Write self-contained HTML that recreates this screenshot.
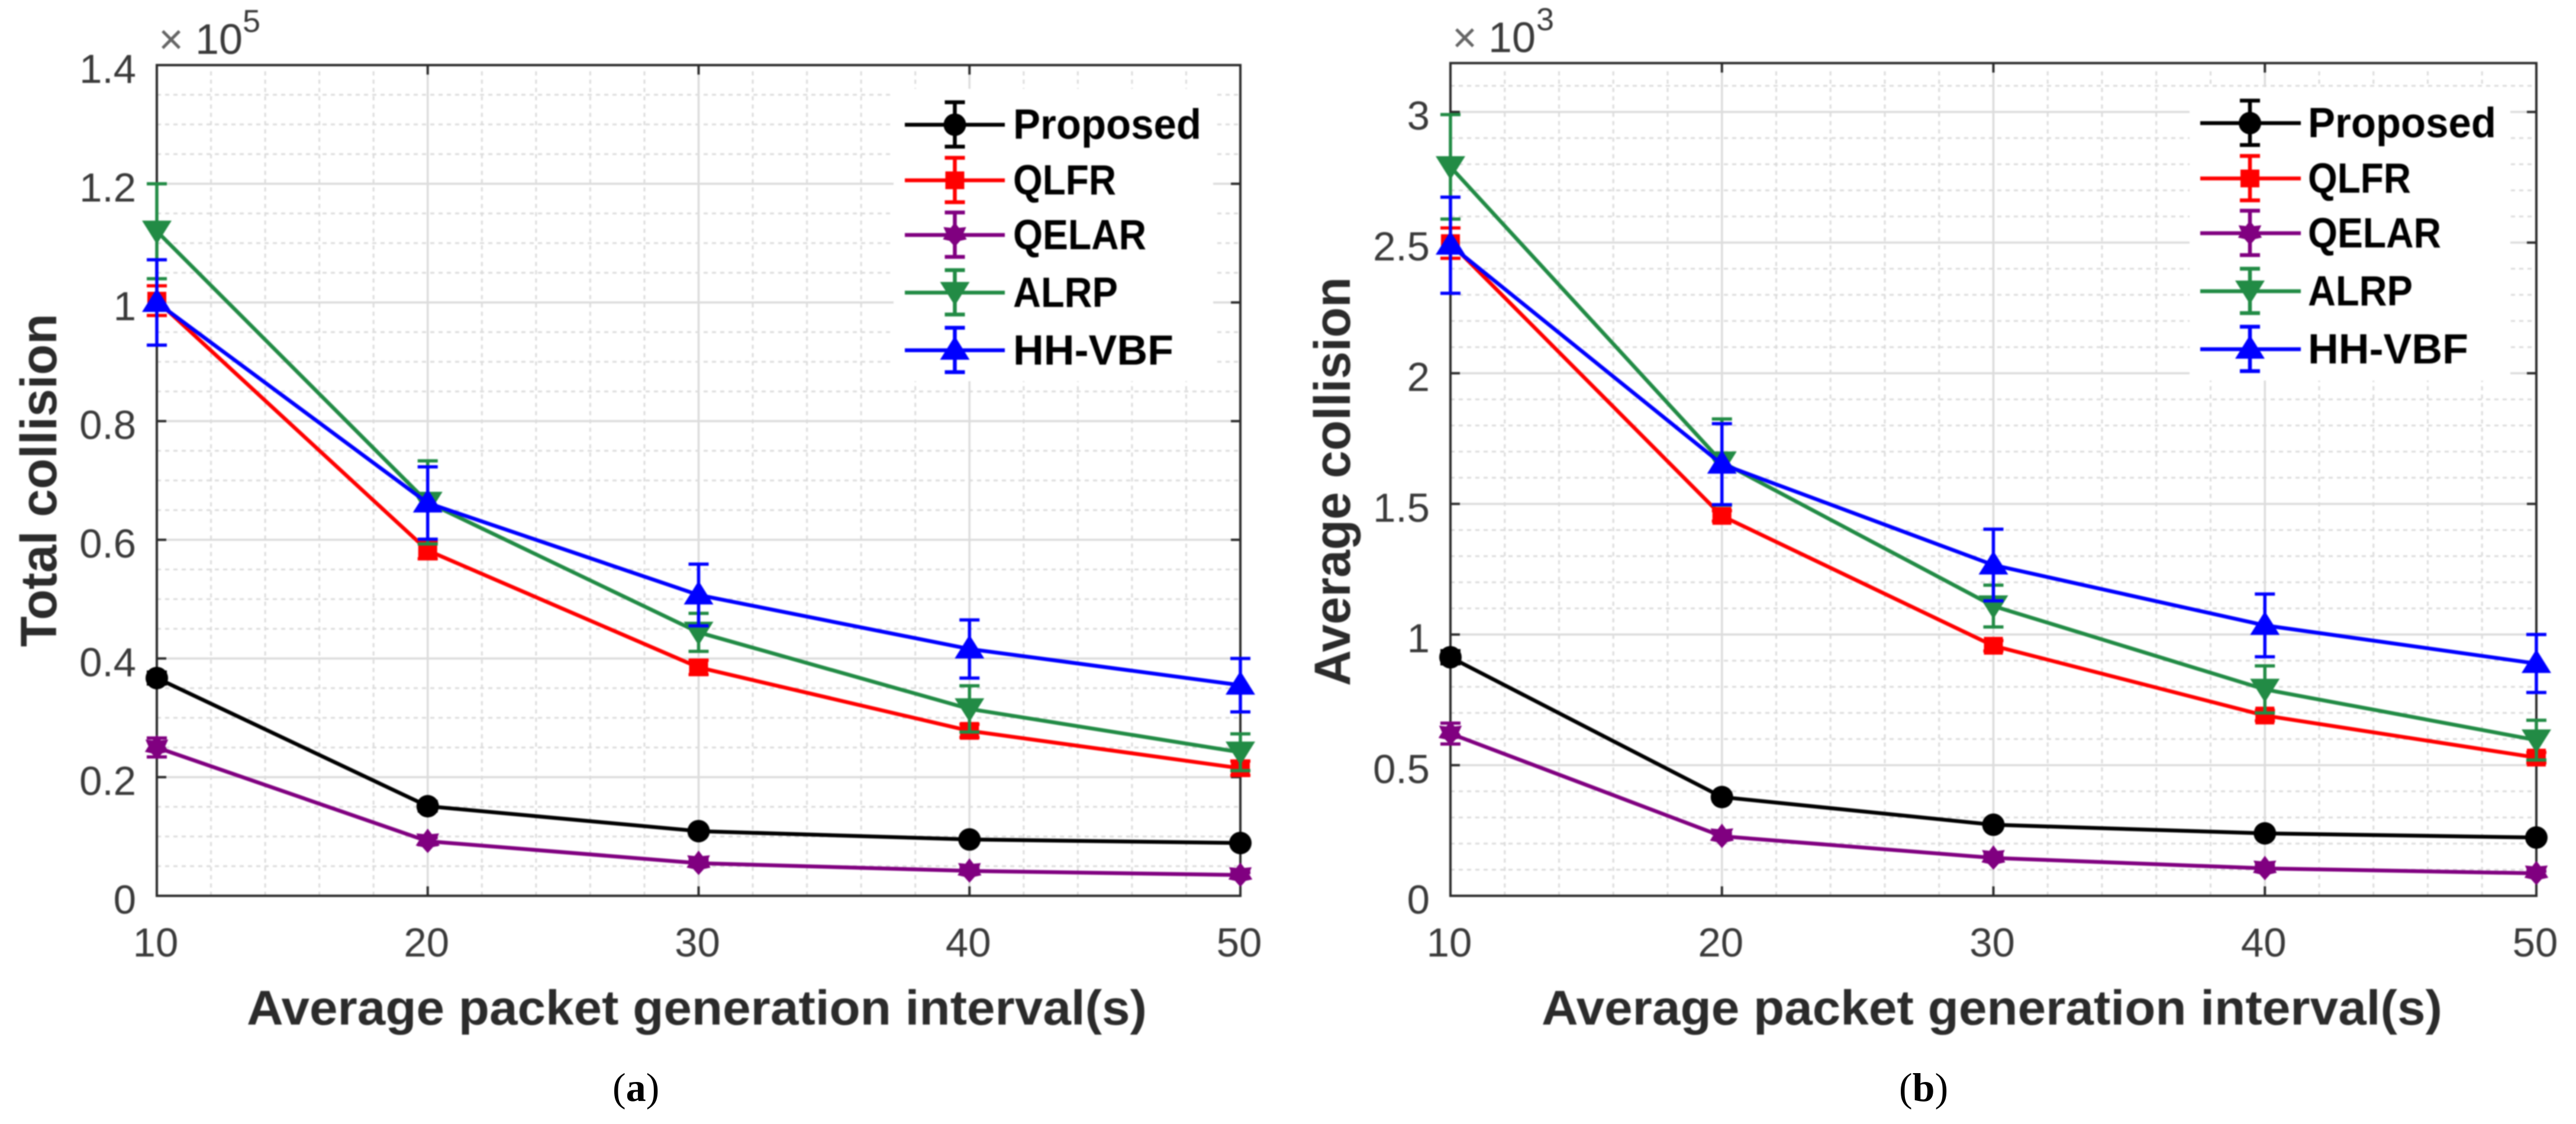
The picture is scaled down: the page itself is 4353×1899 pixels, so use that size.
<!DOCTYPE html>
<html lang="en">
<head>
<meta charset="utf-8">
<title>Total and average collision charts</title>
<style>
html,body{margin:0;padding:0;background:#fff;width:4353px;height:1899px;overflow:hidden}
svg{display:block}
text{font-family:"Liberation Sans",sans-serif}
#chartA,#chartB{filter:blur(1px)}
</style>
</head>
<body>
<svg id="fig" xmlns="http://www.w3.org/2000/svg" width="4353" height="1899" viewBox="0 0 4353 1899">
<rect x="0" y="0" width="4353" height="1899" fill="#fff"/>
<g id="chartA"></g>
<g id="chartB"></g>
<text x="1035" y="1860" font-size="68" fill="#000" style="font-family:'Liberation Serif',serif">(<tspan font-weight="bold">a</tspan>)</text>
<text x="3209" y="1860" font-size="68" fill="#000" style="font-family:'Liberation Serif',serif">(<tspan font-weight="bold">b</tspan>)</text>
</svg>
<script>
// ---- shared data ----
const categories = [10, 20, 30, 40, 50];
const seriesNames = ['Proposed', 'QLFR', 'QELAR', 'ALRP', 'HH-VBF'];
const xTickLabels = ['10', '20', '30', '40', '50'];

// ---- chart (a): total collision, x 10^5 ----
const totalProposed = [0.367, 0.151, 0.109, 0.095, 0.089];
const totalQLFR     = [1.003, 0.582, 0.385, 0.278, 0.215];
const totalQELAR    = [0.250, 0.092, 0.055, 0.042, 0.035];
const totalALRP     = [1.120, 0.663, 0.444, 0.315, 0.242];
const totalHHVBF    = [1.000, 0.662, 0.507, 0.416, 0.355];
const totalProposedErr = [0.010, 0.008, 0.006, 0.005, 0.005];
const totalQLFRErr     = [0.025, 0.014, 0.012, 0.011, 0.012];
const totalQELARErr    = [0.016, 0.006, 0.005, 0.004, 0.004];
const totalALRPErr     = [0.080, 0.070, 0.032, 0.039, 0.031];
const totalHHVBFErr    = [0.072, 0.061, 0.052, 0.049, 0.045];
const totalYTicks = [0, 0.2, 0.4, 0.6, 0.8, 1, 1.2, 1.4];
const totalYTickLabels = ['0', '0.2', '0.4', '0.6', '0.8', '1', '1.2', '1.4'];
const totalYMax = 1.4;
const totalYMinorStep = 0.05;

// ---- chart (b): average collision, x 10^3 ----
const avgProposed = [0.913, 0.378, 0.272, 0.239, 0.223];
const avgQLFR     = [2.498, 1.454, 0.957, 0.690, 0.529];
const avgQELAR    = [0.621, 0.228, 0.145, 0.105, 0.086];
const avgALRP     = [2.790, 1.660, 1.109, 0.790, 0.596];
const avgHHVBF    = [2.490, 1.652, 1.266, 1.035, 0.889];
const avgProposedErr = [0.025, 0.015, 0.012, 0.010, 0.010];
const avgQLFRErr     = [0.058, 0.020, 0.020, 0.020, 0.020];
const avgQELARErr    = [0.040, 0.010, 0.010, 0.010, 0.008];
const avgALRPErr     = [0.200, 0.165, 0.080, 0.090, 0.076];
const avgHHVBFErr    = [0.184, 0.155, 0.137, 0.120, 0.111];
const avgYTicks = [0, 0.5, 1, 1.5, 2, 2.5, 3];
const avgYTickLabels = ['0', '0.5', '1', '1.5', '2', '2.5', '3'];
const avgYMax = 3.187;
const avgYMinorStep = 0.1;

const seriesColors = ['#000000', '#ff0000', '#800080', '#228b45', '#0000ff'];
const legendTextWidths = [318, 174, 225, 177, 271];
const NS = 'http://www.w3.org/2000/svg';
const INK = '#2b2b2b';
const GRID = '#dcdcdc';

function mk(parent, tag, attrs, txt) {
  const e = document.createElementNS(NS, tag);
  for (const k in attrs) e.setAttribute(k, attrs[k]);
  if (txt !== undefined) e.textContent = txt;
  parent.appendChild(e);
  return e;
}

function drawMarker(g, idx, cx, cy) {
  const col = seriesColors[idx];
  let m;
  if (idx === 0) {
    m = mk(g, 'circle', {cx: cx, cy: cy, r: 19, fill: col});
  } else if (idx === 1) {
    m = mk(g, 'rect', {x: cx - 16, y: cy - 15, width: 32, height: 30, fill: col});
  } else if (idx === 2) {
    m = mk(g, 'polygon', {fill: col, stroke: col, 'stroke-width': 4, points:
      [[0,-18],[6,-10],[16,-11],[12,-2],[17,6],[8,8],[0,17],[-8,8],[-17,6],[-12,-2],[-16,-11],[-6,-10]]
      .map(function (p) { return (cx + p[0]) + ',' + (cy + p[1]); }).join(' ')});
  } else if (idx === 3) {
    m = mk(g, 'polygon', {fill: col, points: (cx - 25) + ',' + (cy - 18) + ' ' + (cx + 25) + ',' + (cy - 18) + ' ' + cx + ',' + (cy + 22)});
  } else {
    m = mk(g, 'polygon', {fill: col, points: (cx - 25) + ',' + (cy + 16) + ' ' + (cx + 25) + ',' + (cy + 16) + ' ' + cx + ',' + (cy - 24)});
  }
  
  
}

function drawChart(root, cfg) {
  const sx = function (v) { return cfg.left + (v - 10) / 40 * (cfg.right - cfg.left); };
  const sy = function (v) { return cfg.bottom - v / cfg.yMax * (cfg.bottom - cfg.top); };

  // minor grid
  const minorGrid = mk(root, 'g', {stroke: GRID, 'stroke-width': 3, 'stroke-dasharray': '7 7', fill: 'none'});
  
  
  for (let v = 12; v < 50; v += 2) {
    if (v % 10 === 0) continue;
    const l = mk(minorGrid, 'line', {x1: sx(v), x2: sx(v), y1: cfg.bottom, y2: cfg.top + 10});
    
    
  }
  const nMinor = Math.floor(cfg.yMax / cfg.yMinorStep + 0.001);
  for (let i = 1; i <= nMinor; i++) {
    const v = i * cfg.yMinorStep;
    if (cfg.yTicks.some(function (t) { return Math.abs(t - v) < 1e-6; })) continue;
    const l = mk(minorGrid, 'line', {x1: cfg.left, x2: cfg.right, y1: sy(v), y2: sy(v)});
    
    
  }

  // major grid
  const majorGrid = mk(root, 'g', {stroke: GRID, 'stroke-width': 3.5, fill: 'none'});
  
  
  categories.slice(1, -1).forEach(function (c) {
    const l = mk(majorGrid, 'line', {x1: sx(c), x2: sx(c), y1: cfg.top, y2: cfg.bottom});
    
    
  });
  cfg.yTicks.forEach(function (t) {
    if (t === 0 || t >= cfg.yMax) return;
    const l = mk(majorGrid, 'line', {x1: cfg.left, x2: cfg.right, y1: sy(t), y2: sy(t)});
    
    
  });

  // legend background hides the grid beneath it
  const legendBg = mk(root, 'rect', {x: cfg.legBox[0], y: cfg.legBox[1], width: cfg.legBox[2], height: cfg.legBox[3], fill: '#fff'});
  
  

  // axes box
  const box = mk(root, 'rect', {x: cfg.left, y: cfg.top, width: cfg.right - cfg.left, height: cfg.bottom - cfg.top, fill: 'none', stroke: INK, 'stroke-width': 4});
  
  

  // ticks
  const ticks = mk(root, 'g', {stroke: INK, 'stroke-width': 4});
  
  
  categories.slice(1, -1).forEach(function (c) {
    const a = mk(ticks, 'line', {x1: sx(c), x2: sx(c), y1: cfg.bottom, y2: cfg.bottom - 16});
    
    
    const b = mk(ticks, 'line', {x1: sx(c), x2: sx(c), y1: cfg.top, y2: cfg.top + 16});
    
    
  });
  cfg.yTicks.forEach(function (t) {
    if (t === 0 || t >= cfg.yMax) return;
    const a = mk(ticks, 'line', {x1: cfg.left, x2: cfg.left + 16, y1: sy(t), y2: sy(t)});
    
    
    const b = mk(ticks, 'line', {x1: cfg.right, x2: cfg.right - 16, y1: sy(t), y2: sy(t)});
    
    
  });

  // tick labels
  xTickLabels.forEach(function (s, i) {
    const t = mk(root, 'text', {x: sx(categories[i]) - 2, y: 1616, 'font-size': 69, fill: '#3a3a3a', 'text-anchor': 'middle'}, s);
    
    
  });
  cfg.yTicks.forEach(function (v, i) {
    const t = mk(root, 'text', {x: cfg.left - 35, y: sy(v) + 30, 'font-size': 69, fill: '#3a3a3a', 'text-anchor': 'end'}, cfg.yTickLabels[i]);
    
    
  });

  // exponent
  const times = mk(root, 'text', {x: cfg.expX[0], y: cfg.expY, 'font-size': 72, fill: '#666'}, '\u00d7');
  
  
  const ten = mk(root, 'text', {x: cfg.expX[1], y: cfg.expY, 'font-size': 72, fill: '#3a3a3a'}, '10');
  
  
  const pow = mk(root, 'text', {x: cfg.expX[2], y: cfg.expY - 37, 'font-size': 54, fill: '#3a3a3a'}, cfg.exponent);
  
  

  // axis titles
  const xt = mk(root, 'text', {x: cfg.xTitle[0], y: 1731, 'font-size': 83, 'font-weight': 'bold', fill: '#2b2b2b', textLength: cfg.xTitle[1], lengthAdjust: 'spacingAndGlyphs'}, 'Average packet generation interval(s)');
  
  
  const yt = mk(root, 'text', {transform: 'translate(' + cfg.yTitle[0] + ',' + cfg.yTitle[1] + ') rotate(-90)', x: 0, y: 0, 'font-size': 86, 'font-weight': 'bold', fill: '#2b2b2b', textLength: cfg.yTitle[2], lengthAdjust: 'spacingAndGlyphs'}, cfg.yTitleText);
  
  

  // series
  cfg.series.forEach(function (vals, idx) {
    const col = seriesColors[idx];
    const g = mk(root, 'g', {});
    
    
    const pts = vals.map(function (v, i) { return sx(categories[i]) + ',' + sy(v); }).join(' ');
    const line = mk(g, 'polyline', {points: pts, fill: 'none', stroke: col, 'stroke-width': 6.5});
    
    
    vals.forEach(function (v, i) {
      const x = sx(categories[i]);
      const e = cfg.errors[idx][i];
      const eb = mk(g, 'path', {fill: 'none', stroke: col, 'stroke-width': 5.5, d:
        'M' + x + ' ' + sy(v - e) + 'V' + sy(v + e) +
        'M' + (x - 17) + ' ' + sy(v - e) + 'h34' +
        'M' + (x - 17) + ' ' + sy(v + e) + 'h34'});
      
      
      drawMarker(g, idx, x, sy(v));
    });
  });

  // legend
  const legend = mk(root, 'g', {});
  
  
  seriesNames.forEach(function (name, idx) {
    const col = seriesColors[idx];
    const ly = cfg.legY[idx];
    const entry = mk(legend, 'g', {});
    
    
    const key = mk(entry, 'path', {fill: 'none', stroke: col, 'stroke-width': 6.5, d:
      'M' + cfg.legX[0] + ' ' + ly + 'H' + cfg.legX[1] +
      'M' + cfg.legCx + ' ' + (ly - 38) + 'V' + (ly + 37) +
      'M' + (cfg.legCx - 17) + ' ' + (ly - 38) + 'h34' +
      'M' + (cfg.legCx - 17) + ' ' + (ly + 37) + 'h34'});
    
    
    drawMarker(entry, idx, cfg.legCx, ly);
    const t = mk(entry, 'text', {x: cfg.legText, y: ly + 24, 'font-size': 71, 'font-weight': 'bold', fill: '#000', textLength: legendTextWidths[idx], lengthAdjust: 'spacingAndGlyphs'}, name);
    
    
  });
}

drawChart(document.getElementById('chartA'), {
  left: 265, right: 2096, top: 110, bottom: 1513.5,
  yMax: totalYMax, yTicks: totalYTicks, yTickLabels: totalYTickLabels, yMinorStep: totalYMinorStep,
  series: [totalProposed, totalQLFR, totalQELAR, totalALRP, totalHHVBF],
  errors: [totalProposedErr, totalQLFRErr, totalQELARErr, totalALRPErr, totalHHVBFErr],
  exponent: '5', expX: [268, 330, 410], expY: 91,
  xTitle: [417, 1521], yTitle: [95, 1093, 563], yTitleText: 'Total collision',
  legBox: [1510, 150, 540, 494], legX: [1529, 1698], legCx: 1613.5, legText: 1712,
  legY: [210.7, 304.6, 397, 494.4, 591.8]
});

drawChart(document.getElementById('chartB'), {
  left: 2451, right: 4286, top: 106.6, bottom: 1513.5,
  yMax: avgYMax, yTicks: avgYTicks, yTickLabels: avgYTickLabels, yMinorStep: avgYMinorStep,
  series: [avgProposed, avgQLFR, avgQELAR, avgALRP, avgHHVBF],
  errors: [avgProposedErr, avgQLFRErr, avgQELARErr, avgALRPErr, avgHHVBFErr],
  exponent: '3', expX: [2454, 2515, 2596], expY: 88,
  xTitle: [2605, 1522], yTitle: [2281, 1159, 691], yTitleText: 'Average collision',
  legBox: [3700, 147, 542, 496], legX: [3718, 3888], legCx: 3802, legText: 3900,
  legY: [208, 301.5, 394, 492, 590]
});
</script>
</body>
</html>
